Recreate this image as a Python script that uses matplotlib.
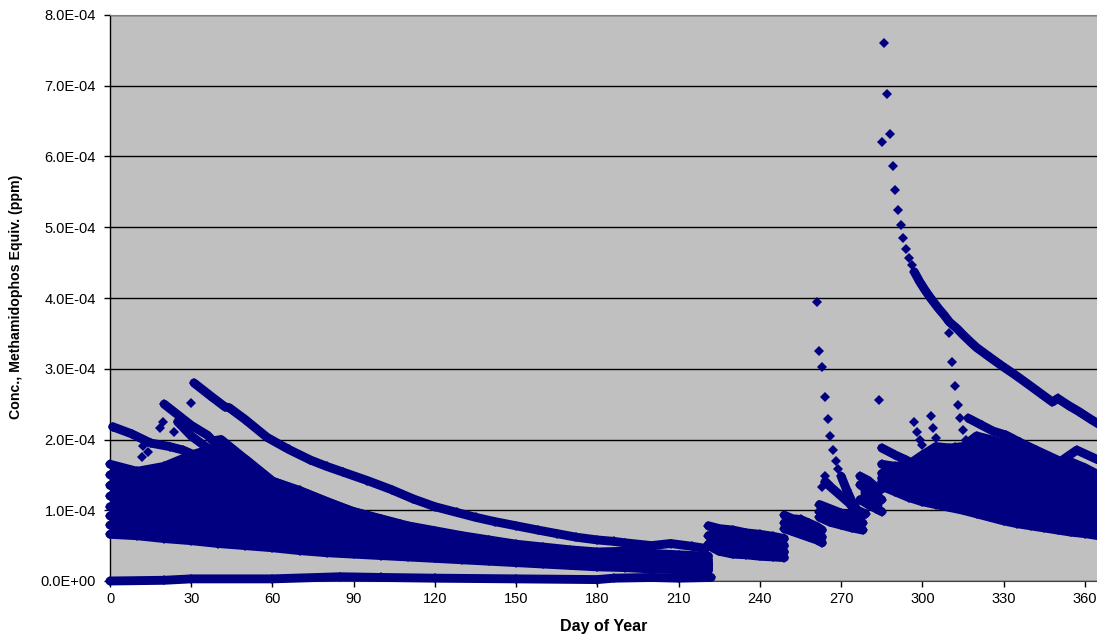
import numpy as np
import matplotlib
matplotlib.use("Agg")
import matplotlib.pyplot as plt

plt.rcParams['font.family'] = ['Liberation Sans', 'DejaVu Sans']

NAVY = '#000080'
SCALE = 1e-4

x_ticks = list(range(0, 361, 30))
y_ticks = [0, 1, 2, 3, 4, 5, 6, 7, 8]
y_tick_labels = ['0.0E+00', '1.0E-04', '2.0E-04', '3.0E-04', '4.0E-04',
                 '5.0E-04', '6.0E-04', '7.0E-04', '8.0E-04']

# --- continuous ribbons (day, value in 1e-4 ppm) ---
days_a = [0, 10, 20, 30, 40, 50, 60, 70, 80, 90, 100, 110, 120, 130, 140, 150, 160, 170, 180, 190, 200, 210, 221]
cloud_a = [
    [1.65, 1.55, 1.62, 1.78, 1.90, 1.72, 1.41, 1.28, 1.12, .98, .88, .78, .71, .64, .58, .52, .48, .44, .41, .42, .39, .37, .35],
    [1.50, 1.42, 1.42, 1.42, 1.34, 1.25, 1.14, 1.05, .97, .89, .80, .73, .67, .62, .56, .50, .46, .42, .38, .39, .36, .34, .30],
    [1.35, 1.29, 1.27, 1.25, 1.18, 1.10, 1.01, .94, .87, .80, .74, .69, .64, .59, .54, .47, .43, .40, .36, .35, .33, .31, .26],
    [1.20, 1.16, 1.12, 1.08, 1.02, .95, .89, .83, .77, .71, .66, .62, .57, .53, .49, .45, .41, .37, .34, .32, .30, .28, .24],
    [1.05, 1.02, .97, .92, .87, .81, .77, .72, .67, .63, .58, .55, .51, .47, .43, .40, .37, .33, .30, .28, .26, .25, .22],
    [.92, .89, .84, .80, .75, .70, .66, .61, .57, .54, .50, .47, .44, .41, .38, .35, .32, .29, .26, .25, .23, .22, .20],
    [.79, .76, .72, .68, .64, .60, .56, .51, .48, .45, .43, .40, .38, .35, .33, .30, .28, .25, .23, .22, .20, .19, .17],
    [.66, .64, .60, .57, .53, .50, .47, .43, .40, .38, .36, .34, .32, .30, .28, .26, .24, .22, .20, .19, .17, .16, .15],
]
low_days = [0, 20, 30, 60, 85, 100, 120, 150, 180, 186, 200, 210, 222]
low_vals = [0.0, .01, .03, .03, .06, .05, .04, .03, .02, .04, .05, .04, .05]

top_days = [31, 37, 42.5, 44, 50, 58, 66, 74, 80, 86, 95, 104, 112, 120, 128, 135, 142, 150, 158, 165, 172, 180, 186, 190, 200, 207, 215, 220]
top_vals = [2.80, 2.62, 2.46, 2.45, 2.28, 2.03, 1.86, 1.71, 1.62, 1.54, 1.42, 1.29, 1.16, 1.05, .97, .90, .84, .78, .72, .67, .62, .58, .56, .54, .50, .53, .49, .46]

c1_days = [1, 8, 15, 22, 27, 33, 40]
c1_vals = [2.18, 2.08, 1.95, 1.90, 1.85, 1.75, 1.55]

c3_days = [20, 25, 30, 36, 38, 41, 50, 60, 73, 89, 107]
c3_vals = [2.50, 2.35, 2.20, 2.06, 1.98, 2.00, 1.72, 1.41, 1.23, .99, .80]

c4_days = [25, 30, 36, 45, 55]
c4_vals = [2.25, 2.05, 1.88, 1.65, 1.42]

days_b = [221, 225, 230, 235, 240, 245, 249]
cloud_b = [
    [.78, .74, .72, .68, .66, .63, .60],
    [.64, .64, .60, .58, .55, .52, .50],
    [.52, .52, .50, .48, .45, .43, .41],
    [.50, .42, .38, .37, .35, .34, .33],
]

days_c = [249, 252, 255, 258, 261, 263]
cloud_c = [
    [.93, .88, .87, .82, .77, .72],
    [.82, .78, .76, .72, .67, .62],
    [.74, .70, .66, .62, .58, .54],
]

days_d = [262, 266, 270, 274, 278]
cloud_d = [
    [1.08, 1.02, .96, .95, .93],
    [.98, .92, .88, .85, .82],
    [.90, .83, .79, .75, .72],
]

days_e = [277, 280, 283, 285]
cloud_e = [
    [1.48, 1.42, 1.32, 1.30],
    [1.36, 1.28, 1.20, 1.15],
    [1.15, 1.08, 1.02, .98],
]

days_f = [285, 290, 295, 300, 305, 310, 315, 320, 325, 330, 335, 340, 345, 350, 355, 360, 365]
cloud_f = [
    [1.65, 1.62, 1.65, 1.78, 1.90, 1.88, 1.90, 2.05, 2.00, 1.95, 1.85, 1.78, 1.68, 1.60, 1.68, 1.60, 1.50],
    [1.52, 1.48, 1.42, 1.42, 1.48, 1.52, 1.52, 1.54, 1.52, 1.50, 1.44, 1.38, 1.35, 1.33, 1.30, 1.26, 1.22],
    [1.45, 1.38, 1.32, 1.30, 1.30, 1.30, 1.32, 1.32, 1.30, 1.28, 1.25, 1.20, 1.17, 1.14, 1.10, 1.08, 1.05],
    [1.40, 1.30, 1.22, 1.18, 1.12, 1.10, 1.12, 1.12, 1.10, 1.08, 1.06, 1.03, 1.00, .97, .94, .91, .88],
    [1.34, 1.26, 1.18, 1.12, 1.08, 1.04, 1.00, .95, .90, .85, .81, .78, .75, .72, .69, .67, .64],
]

t2_days = [317, 322, 326, 331, 336, 342, 351, 357, 365]
t2_vals = [2.30, 2.20, 2.12, 2.06, 1.96, 1.85, 1.69, 1.85, 1.71]

t3_days = [285, 290, 294, 300, 303]
t3_vals = [1.88, 1.78, 1.71, 1.58, 1.47]

big_days = [297, 299, 301, 303, 306, 308, 310, 313, 315, 318, 320, 325, 329, 334, 338, 343, 348, 350, 354, 358, 362, 365]
big_vals = [4.37, 4.23, 4.11, 4.00, 3.85, 3.76, 3.66, 3.56, 3.48, 3.37, 3.30, 3.16, 3.05, 2.92, 2.81, 2.67, 2.53, 2.58, 2.48, 2.39, 2.29, 2.22]

tail1_days = [270, 272, 274, 276, 279]
tail1_vals = [1.48, 1.29, 1.12, 1.00, .95]
tail2_days = [264, 267, 270, 273, 276]
tail2_vals = [1.40, 1.30, 1.20, 1.10, .95]

# --- isolated diamonds ---
dot_days = [261, 262, 263, 264, 265, 266, 267, 268, 269, 264, 263, 265, 283.8,
            285, 286, 287, 288, 289, 290, 291, 292, 293, 294, 295, 296,
            310, 311, 312, 313, 314, 315, 316, 312, 303, 304, 305, 297, 298, 299, 300,
            29.8, 19.7, 18.4, 23.6, 11.7, 12.3, 14.0]
dot_vals = [3.95, 3.25, 3.02, 2.60, 2.29, 2.05, 1.85, 1.70, 1.58, 1.48, 1.33, 1.39, 2.56,
            6.21, 7.60, 6.88, 6.32, 5.86, 5.52, 5.25, 5.03, 4.85, 4.69, 4.57, 4.46,
            3.50, 3.09, 2.75, 2.49, 2.30, 2.13, 2.00, 1.90, 2.33, 2.16, 2.02, 2.25, 2.10, 2.00, 1.92,
            2.52, 2.25, 2.16, 2.11, 1.75, 1.91, 1.82]

fig = plt.figure(figsize=(10.97, 6.37), dpi=100, facecolor='white')
ax = fig.add_axes([110 / 1097, 1 - 581 / 637, 987 / 1097, 566 / 637])
ax.set_facecolor('#C0C0C0')
ax.set_xlim(0, 987 / 2.708)
ax.set_ylim(0, 8e-4)


def ribbon(days, vals):
    ax.plot(days, np.array(vals) * SCALE, '-D', color=NAVY, lw=6.4, ms=4.6,
            mew=0, solid_capstyle='round', solid_joinstyle='round',
            clip_on=False, zorder=3)


for days, rows in [(days_a, cloud_a), (days_b, cloud_b), (days_c, cloud_c),
                   (days_d, cloud_d), (days_e, cloud_e), (days_f, cloud_f)]:
    ax.fill_between(days, np.array(rows[0]) * SCALE, np.array(rows[-1]) * SCALE,
                    color=NAVY, lw=0, zorder=3, clip_on=False)
    for row in rows:
        ribbon(days, row)
for d, v in [(low_days, low_vals), (top_days, top_vals), (c1_days, c1_vals),
             (c3_days, c3_vals), (c4_days, c4_vals), (t2_days, t2_vals),
             (t3_days, t3_vals), (big_days, big_vals), (tail1_days, tail1_vals),
             (tail2_days, tail2_vals)]:
    ribbon(d, v)

ax.plot(dot_days, np.array(dot_vals) * SCALE, 'D', color=NAVY, ms=5.4, mew=0,
        clip_on=False, zorder=3)

ax.set_xticks(x_ticks)
ax.set_yticks([v * SCALE for v in y_ticks])
ax.set_yticklabels(y_tick_labels)
ax.grid(axis='y', color='black', lw=1.0, zorder=1)
ax.set_axisbelow(True)
ax.tick_params(axis='x', length=4, width=1, labelsize=10.5, color='black', pad=4)
ax.tick_params(axis='y', length=4, width=1, labelsize=10.5, color='black', pad=6)
ax.spines['right'].set_visible(False)
ax.spines['top'].set_color('#808080')
ax.spines['left'].set_linewidth(1.0)
ax.spines['bottom'].set_color('#404040')

fig.text(604 / 1097, 1 - 626 / 637, 'Day of Year', ha='center', va='center',
         fontsize=11.5, fontweight='bold')
fig.text(16.5 / 1097, 1 - 297 / 637, 'Conc., Methamidophos Equiv. (ppm)', ha='center',
         va='center', rotation=90, fontsize=10.2, fontweight='bold')

fig.savefig('out.png', dpi=100)
